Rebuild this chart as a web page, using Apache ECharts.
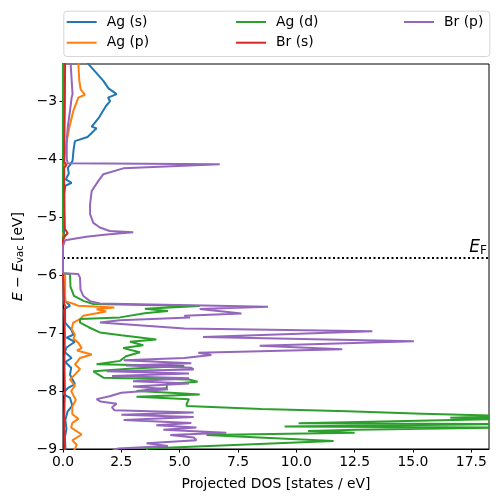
<!DOCTYPE html>
<html><head><meta charset="utf-8">
<script src="https://cdn.jsdelivr.net/npm/echarts@6/dist/echarts.min.js"></script>
<style>html,body{margin:0;padding:0;background:#fff}#c{width:498px;height:502px}</style>
</head><body><div id="c"></div>
<script>
// ---- data (energy in eV, DOS in states/eV) ----
const seriesNames = ['Ag (s)', 'Ag (p)', 'Ag (d)', 'Br (s)', 'Br (p)'];
const xTicks = [0, 2.5, 5, 7.5, 10, 12.5, 15, 17.5];
const yTicks = [-9, -8, -7, -6, -5, -4, -3];
const fermiLevel = -5.70;

const agS_E   = [-2.30,-2.38,-2.50,-2.65,-2.78,-2.88,-2.94,-3.00,-3.03,-3.08,-3.17,-3.28,-3.37,-3.44,-3.47,-3.50,-3.55,-3.62,-3.69,-3.85,-4.03,-4.10,-4.15,-4.25,-4.35,-4.41,-4.46,-4.60,-5.00,-5.30,-5.40,-6.00,-6.20,-6.45,-6.53,-6.58,-6.70,-6.82,-6.95,-7.03,-7.08,-7.15,-7.25,-7.33,-7.43,-7.50,-7.60,-7.72,-7.88,-7.95,-8.05,-8.12,-8.25,-8.35,-8.50,-8.65,-8.80,-8.95,-9.05];
const agS_dos = [1.00,1.13,1.40,1.73,1.95,2.30,1.93,2.02,2.08,1.85,1.71,1.55,1.37,1.23,1.44,1.35,1.23,1.05,0.51,0.45,0.41,0.30,0.21,0.25,0.12,0.37,0.10,0.05,0.03,0.05,0.00,0.00,0.05,0.10,0.30,0.09,0.09,0.09,0.37,0.44,0.15,0.51,0.15,0.08,0.37,0.10,0.35,0.30,0.51,0.20,0.00,0.30,0.40,0.20,0.10,0.15,0.08,0.10,0.10];

const agP_E   = [-2.30,-2.38,-2.65,-2.80,-2.89,-2.94,-3.17,-3.46,-3.69,-4.00,-4.50,-5.40,-5.98,-6.00,-6.45,-6.50,-6.53,-6.56,-6.59,-6.63,-6.66,-6.70,-6.76,-6.82,-6.93,-7.03,-7.10,-7.17,-7.26,-7.30,-7.37,-7.43,-7.50,-7.54,-7.62,-7.70,-7.80,-7.91,-8.00,-8.08,-8.15,-8.27,-8.40,-8.48,-8.55,-8.63,-8.75,-8.85,-8.93,-9.05];
const agP_dos = [0.66,0.66,0.70,0.76,0.94,0.66,0.44,0.27,0.16,0.05,0.02,0.00,0.00,0.09,0.09,0.47,0.65,2.20,1.44,1.85,1.44,0.87,0.73,0.44,0.37,0.51,0.45,0.66,0.80,0.60,1.23,0.73,0.60,0.51,0.73,0.55,0.30,0.51,0.35,0.45,0.55,0.40,0.40,0.66,0.40,0.35,0.80,0.40,0.59,0.45];

const agD_E   = [-2.30,-5.25,-5.30,-5.35,-5.97,-5.98,-6.20,-6.36,-6.45,-6.50,-6.535,-6.56,-6.58,-6.62,-6.66,-6.73,-6.76,-6.82,-6.90,-6.99,-7.04,-7.11,-7.15,-7.21,-7.26,-7.33,-7.40,-7.48,-7.54,-7.57,-7.61,-7.66,-7.77,-7.80,-7.84,-7.88,-7.95,-8.00,-8.04,-8.06,-8.10,-8.14,-8.22,-8.26,-8.31,-8.35,-8.39,-8.43,-8.46,-8.48,-8.555,-8.57,-8.61,-8.63,-8.67,-8.69,-8.72,-8.76,-8.86,-8.99,-9.05];
const agD_dos = [0.00,0.00,0.05,0.00,0.00,0.30,0.32,0.47,0.90,1.30,5.86,4.58,3.51,4.50,3.50,2.44,0.73,0.73,1.10,1.58,2.50,4.00,2.87,3.44,2.58,3.30,2.70,2.44,1.44,5.20,3.00,1.30,1.73,5.40,5.77,4.45,4.45,3.15,5.00,5.86,3.15,5.40,5.30,5.30,8.50,12.20,15.40,19.00,16.60,19.00,10.10,19.00,9.50,19.00,12.60,10.50,12.50,6.15,11.60,3.60,3.60];

const brS_E   = [-2.30,-3.00,-3.70,-4.05,-4.10,-4.15,-4.50,-5.20,-5.28,-5.33,-5.40,-5.98,-6.00,-6.50,-6.55,-6.60,-7.00,-7.50,-8.00,-8.50,-9.05];
const brS_dos = [0.09,0.08,0.06,0.05,0.15,0.05,0.05,0.08,0.20,0.08,0.00,0.00,0.03,0.05,0.12,0.05,0.08,0.06,0.08,0.05,0.06];

const brP_E   = [-2.30,-2.38,-2.88,-2.94,-3.17,-3.46,-3.69,-4.00,-4.07,-4.09,-4.16,-4.26,-4.38,-4.55,-4.78,-4.95,-5.10,-5.18,-5.24,-5.26,-5.30,-5.34,-5.40,-5.50,-5.97,-5.98,-6.05,-6.25,-6.36,-6.45,-6.49,-6.545,-6.585,-6.665,-6.70,-6.73,-6.78,-6.82,-6.92,-6.97,-7.07,-7.14,-7.22,-7.28,-7.34,-7.38,-7.43,-7.47,-7.52,-7.56,-7.60,-7.63,-7.66,-7.70,-7.74,-7.78,-7.83,-7.87,-7.92,-7.97,-8.03,-8.09,-8.14,-8.18,-8.22,-8.28,-8.33,-8.37,-8.41,-8.45,-8.50,-8.55,-8.59,-8.63,-8.67,-8.72,-8.76,-8.80,-8.85,-8.90,-8.95,-8.99,-9.05];
const brP_dos = [0.33,0.33,0.41,0.37,0.30,0.20,0.16,0.16,0.20,6.72,2.58,1.73,1.51,1.23,1.16,1.16,1.30,1.58,2.00,3.01,1.87,1.00,0.09,0.00,0.00,0.65,0.73,0.75,0.87,1.16,1.58,8.79,5.86,7.65,5.20,5.44,2.44,1.58,5.20,13.26,6.00,15.04,8.43,11.97,5.80,6.36,5.20,2.60,5.50,2.70,5.50,5.60,1.87,5.40,2.10,5.40,3.00,5.40,3.00,4.50,2.50,2.00,1.44,1.60,2.30,2.10,2.20,5.60,2.50,5.60,2.60,5.50,4.00,5.72,4.30,7.00,4.60,5.60,5.72,3.58,4.50,2.37,2.00];

const colors = ['#1f77b4', '#ff7f0e', '#2ca02c', '#d62728', '#9467bd'];
const energyLists = [agS_E, agP_E, agD_E, brS_E, brP_E];
const dosLists = [agS_dos, agP_dos, agD_dos, brS_dos, brP_dos];

const FONT = 'DejaVu Sans';
const FS = 13.9;

const series = seriesNames.map((name, k) => {
  const s = {
    name: name,
    type: 'line',
    data: energyLists[k].map((e, i) => [dosLists[k][i], e]),
    showSymbol: false,
    symbol: 'none',
    smooth: false,
    clip: true,
    lineStyle: { width: 2, color: colors[k] },
    itemStyle: { color: colors[k] },
    z: 2 + k
  };
  if (k === 4) {
    s.markLine = {
      silent: true,
      symbol: 'none',
      animation: false,
      lineStyle: { color: '#000', type: [2, 2.5], width: 2 },
      label: {
        show: true,
        position: 'insideEndTop',
        distance: [2, 1],
        formatter: '{e|E}{f|F}',
        rich: {
          e: { fontFamily: FONT, fontStyle: 'italic', fontSize: 17, color: '#000' },
          f: { fontFamily: FONT, fontSize: 12, color: '#000', verticalAlign: 'bottom', padding: [6, 0, 0, 0] }
        }
      },
      data: [{ yAxis: fermiLevel }]
    };
  }
  return s;
});

const legendCols = [[seriesNames[0], seriesNames[1]], [seriesNames[2], seriesNames[3]], [seriesNames[4]]];
const legendLeft = [66.7, 236, 404];
const legends = legendCols.map((d, i) => ({
  data: d,
  orient: 'vertical',
  left: legendLeft[i],
  top: 14,
  padding: 0,
  itemGap: 4.7,
  itemWidth: 30,
  itemHeight: 2,
  icon: 'rect',
  selectedMode: false,
  textStyle: { fontFamily: FONT, fontSize: FS, color: '#000', lineHeight: 16, padding: [0, 0, 0, 5] }
}));

const chart = echarts.init(document.getElementById('c'), null, { renderer: 'canvas' });
chart.setOption({
  animation: false,
  backgroundColor: '#fff',
  color: colors,
  grid: { left: 63, top: 64, width: 426, height: 385, show: true, borderColor: '#000', borderWidth: 1, containLabel: false },
  legend: legends,
  graphic: [{
    type: 'rect', left: 63.3, top: 10.7, z: -1,
    shape: { width: 426, height: 45.3, r: 3 },
    style: { fill: 'rgba(255,255,255,0.8)', stroke: '#d6d6d6', lineWidth: 1 }
  }],
  xAxis: {
    type: 'value', min: 0, max: 18.26,
    name: 'Projected DOS [states / eV]',
    nameLocation: 'middle', nameGap: 28,
    nameTextStyle: { fontFamily: FONT, fontSize: FS, color: '#000' },
    axisLine: { show: true, lineStyle: { color: '#000', width: 1 } },
    axisTick: { show: true, inside: false, length: 3.5, lineStyle: { color: '#000', width: 1 }, customValues: xTicks },
    axisLabel: { fontFamily: FONT, fontSize: FS, color: '#000', margin: 6, customValues: xTicks, formatter: v => v.toFixed(1) },
    splitLine: { show: false }
  },
  yAxis: {
    type: 'value', min: -9, max: -2.36,
    name: '{i|E} \u2212 {i|E}{s|vac} [eV]',
    nameLocation: 'middle', nameGap: 36, nameRotate: 90,
    nameTextStyle: {
      fontFamily: FONT, fontSize: FS, color: '#000',
      rich: {
        i: { fontFamily: FONT, fontSize: FS, fontStyle: 'italic', color: '#000' },
        s: { fontFamily: FONT, fontSize: 10, color: '#000', verticalAlign: 'bottom', padding: [5, 0, 0, 0] }
      }
    },
    axisLine: { show: true, lineStyle: { color: '#000', width: 1 } },
    axisTick: { show: true, inside: false, length: 3.5, lineStyle: { color: '#000', width: 1 }, customValues: yTicks },
    axisLabel: { fontFamily: FONT, fontSize: FS, color: '#000', margin: 6, customValues: yTicks, formatter: v => (v < 0 ? '\u2212' + Math.abs(v) : String(v)) },
    splitLine: { show: false }
  },
  series: series
});
</script></body></html>
